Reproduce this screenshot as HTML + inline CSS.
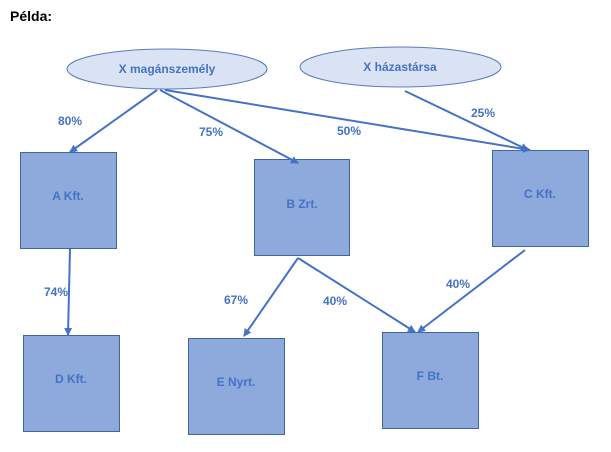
<!DOCTYPE html>
<html><head><style>body{margin:0;background:#fff}svg{display:block}</style></head><body>
<svg width="611" height="452" xmlns="http://www.w3.org/2000/svg" font-family="Liberation Sans, sans-serif">
<defs><marker id="a" markerWidth="8" markerHeight="8" refX="7" refY="4" orient="auto" markerUnits="userSpaceOnUse"><path d="M0,0L8,4L0,8z" fill="#4472C4"/></marker></defs>
<text x="10" y="21" font-size="14" font-weight="bold" fill="#000">Példa:</text>
<g fill="#8EA9DB" stroke="#41659F" stroke-width="1">
<rect x="20.5" y="152.5" width="96" height="96"/>
<rect x="254.5" y="159.5" width="95" height="96"/>
<rect x="492.5" y="150.5" width="96" height="96"/>
<rect x="23.5" y="335.5" width="96" height="96"/>
<rect x="188.5" y="338.5" width="96" height="96"/>
<rect x="382.5" y="332.5" width="96" height="96"/>
</g>
<g fill="#DAE3F3" stroke="#5B7DB8">
<ellipse cx="167" cy="69" rx="100" ry="20"/>
<ellipse cx="400.5" cy="67" rx="100.5" ry="20"/>
</g>
<g stroke="#4472C4" stroke-width="2" fill="none" marker-end="url(#a)">
<line x1="157" y1="90" x2="70" y2="152"/>
<line x1="160" y1="90" x2="298" y2="163"/>
<line x1="165" y1="90" x2="530" y2="150"/>
<line x1="405" y1="91" x2="528" y2="150"/>
<line x1="70" y1="249" x2="68" y2="335"/>
<line x1="298" y1="258" x2="244" y2="336"/>
<line x1="298" y1="258" x2="415" y2="332"/>
<line x1="525" y1="250" x2="418" y2="332"/>
</g>
<g fill="#4472C4" font-size="12" font-weight="bold" text-anchor="middle">
<text x="167" y="73">X magánszemély</text>
<text x="400" y="71">X házastársa</text>
<text x="68" y="200">A Kft.</text>
<text x="302" y="208">B Zrt.</text>
<text x="540" y="198">C Kft.</text>
<text x="71" y="383">D Kft.</text>
<text x="236" y="386">E Nyrt.</text>
<text x="430" y="380">F Bt.</text>
<text x="70" y="125">80%</text>
<text x="211" y="136">75%</text>
<text x="349" y="135">50%</text>
<text x="483" y="117">25%</text>
<text x="56" y="296">74%</text>
<text x="236" y="304">67%</text>
<text x="335" y="305">40%</text>
<text x="458" y="288">40%</text>
</g>
</svg>
</body></html>
